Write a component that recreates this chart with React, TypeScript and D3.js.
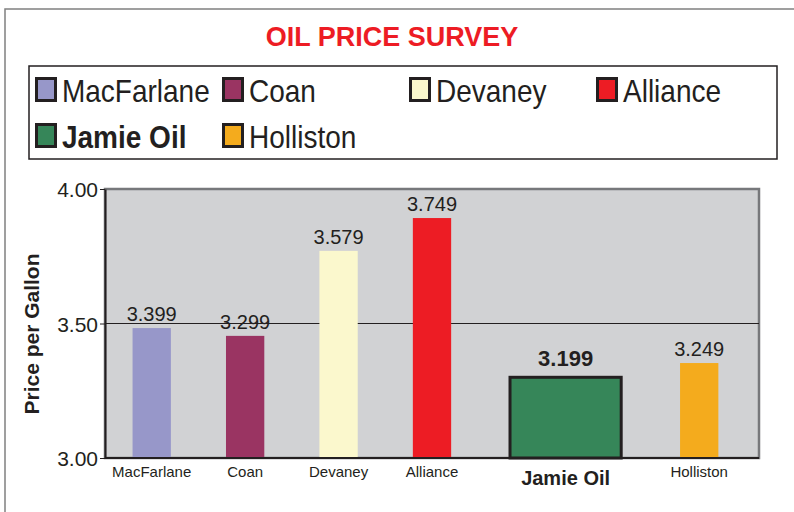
import React, { useEffect, useRef } from 'react';
import * as d3 from 'd3';

// survey data
const categories = ['MacFarlane', 'Coan', 'Devaney', 'Alliance', 'Jamie Oil', 'Holliston'];
const barValues = [3.483, 3.454, 3.77, 3.892, 3.3, 3.353];
const priceLabels = ['3.399', '3.299', '3.579', '3.749', '3.199', '3.249'];
const barColors = ['#9797c9', '#9a3462', '#fbf8cd', '#ed1c24', '#368659', '#f4ab1d'];
const yTicks = [3.0, 3.5, 4.0];

const HOME = 'Jamie Oil';
const FONT = 'Liberation Sans, Arial, Helvetica, sans-serif';
const INK = '#231f20';

function App() {
    const ref = useRef<SVGSVGElement>(null);

    useEffect(() => {
        const svg = d3.select(ref.current);
        svg.selectAll('*').remove();

        const w = 794, h = 512;
        const plot = { left: 105, top: 189, right: 759, bottom: 458 };

        // outer frame
        svg.append('rect')
            .attr('x', 5).attr('y', 9)
            .attr('width', w).attr('height', h)
            .attr('fill', '#fff')
            .attr('stroke', '#808080')
            .attr('stroke-width', 1.5);

        svg.append('text')
            .attr('x', 392).attr('y', 46)
            .attr('text-anchor', 'middle')
            .attr('font-family', FONT)
            .attr('font-weight', 'bold')
            .attr('font-size', 27)
            .attr('fill', '#ed1c24')
            .text('OIL PRICE SURVEY');

        // legend
        svg.append('rect')
            .attr('x', 29).attr('y', 66)
            .attr('width', 748).attr('height', 93)
            .attr('fill', '#fff')
            .attr('stroke', INK)
            .attr('stroke-width', 1.5);

        const items = svg.append('g').selectAll('g')
            .data(categories)
            .enter()
            .append('g')
            .attr('transform', (d, i) => `translate(${35 + (i % 4) * 187},${77 + Math.floor(i / 4) * 46})`);

        items.append('rect')
            .attr('x', 1.5).attr('y', 1.5)
            .attr('width', 19).attr('height', 22)
            .attr('fill', (d, i) => barColors[i])
            .attr('stroke', INK)
            .attr('stroke-width', 3);

        // legend font is a condensed face, squeeze it horizontally
        items.append('text')
            .attr('transform', 'translate(27,25) scale(0.875,1)')
            .attr('font-family', FONT)
            .attr('font-size', 32)
            .attr('font-weight', d => d === HOME ? 'bold' : 'normal')
            .attr('fill', INK)
            .text(d => d);

        // scales
        const y = d3.scaleLinear()
            .domain([3, 4])
            .range([plot.bottom, plot.top]);

        // Jamie Oil gets a wider slot
        const slots = categories.map(c => c === HOME ? 1.86 : 1);
        const starts = [0, ...Array.from(d3.cumsum(slots))];
        const xs = d3.scaleLinear().domain([0, 7]).range([plot.left, plot.right]);
        const center = (i: number) => xs(starts[i] + slots[i] / 2);
        const barW = (d: string) => xs(d === HOME ? 1.19 : 0.41) - xs(0);

        svg.append('rect')
            .attr('x', plot.left).attr('y', plot.top)
            .attr('width', plot.right - plot.left)
            .attr('height', plot.bottom - plot.top)
            .attr('fill', '#d1d2d4')
            .attr('stroke', '#77787b')
            .attr('stroke-width', 2.5);

        svg.append('g').selectAll('line')
            .data(yTicks.filter(t => t > 3 && t < 4))
            .enter()
            .append('line')
            .attr('x1', plot.left).attr('x2', plot.right)
            .attr('y1', d => y(d)).attr('y2', d => y(d))
            .attr('stroke', INK)
            .attr('stroke-width', 1.2);

        svg.append('g').selectAll('rect')
            .data(categories)
            .enter()
            .append('rect')
            .attr('x', (d, i) => center(i) - barW(d) / 2)
            .attr('y', (d, i) => y(barValues[i]))
            .attr('width', d => barW(d))
            .attr('height', (d, i) => plot.bottom - y(barValues[i]))
            .attr('fill', (d, i) => barColors[i])
            .attr('stroke', d => d === HOME ? INK : 'none')
            .attr('stroke-width', 3);

        svg.append('g').selectAll('text')
            .data(categories)
            .enter()
            .append('text')
            .attr('x', (d, i) => center(i))
            .attr('y', (d, i) => y(barValues[i]) - (d === HOME ? 11 : 7))
            .attr('text-anchor', 'middle')
            .attr('font-family', FONT)
            .attr('font-size', d => d === HOME ? 22 : 20)
            .attr('font-weight', d => d === HOME ? 'bold' : 'normal')
            .attr('fill', INK)
            .text((d, i) => priceLabels[i]);

        // axes
        const yAxis = svg.append('g')
            .attr('transform', `translate(${plot.left},0)`)
            .call(d3.axisLeft(y).tickValues(yTicks).tickFormat(d3.format('.2f')).tickSizeInner(5).tickSizeOuter(0).tickPadding(2));
        yAxis.select('.domain').attr('stroke', INK).attr('stroke-width', 2);
        yAxis.selectAll('.tick line').attr('stroke', INK);
        yAxis.selectAll('.tick text')
            .attr('font-family', FONT)
            .attr('font-size', 21)
            .attr('fill', INK)
            .attr('dy', '0.38em');

        svg.append('line')
            .attr('x1', plot.left).attr('x2', plot.right)
            .attr('y1', plot.bottom).attr('y2', plot.bottom)
            .attr('stroke', INK)
            .attr('stroke-width', 2);

        svg.append('g').selectAll('text')
            .data(categories)
            .enter()
            .append('text')
            .attr('x', (d, i) => center(i))
            .attr('y', d => d === HOME ? 485 : 477)
            .attr('text-anchor', 'middle')
            .attr('font-family', FONT)
            .attr('font-size', d => d === HOME ? 20 : 15)
            .attr('font-weight', d => d === HOME ? 'bold' : 'normal')
            .attr('fill', INK)
            .text(d => d);

        svg.append('text')
            .attr('transform', 'translate(39,334) rotate(-90)')
            .attr('text-anchor', 'middle')
            .attr('font-family', FONT)
            .attr('font-weight', 'bold')
            .attr('font-size', 21)
            .attr('fill', INK)
            .text('Price per Gallon');
    }, []);

    return (
        <svg ref={ref} width={794} height={512} style={{ position: 'absolute', left: 0, top: 0 }}></svg>
    );
}

export default App;
